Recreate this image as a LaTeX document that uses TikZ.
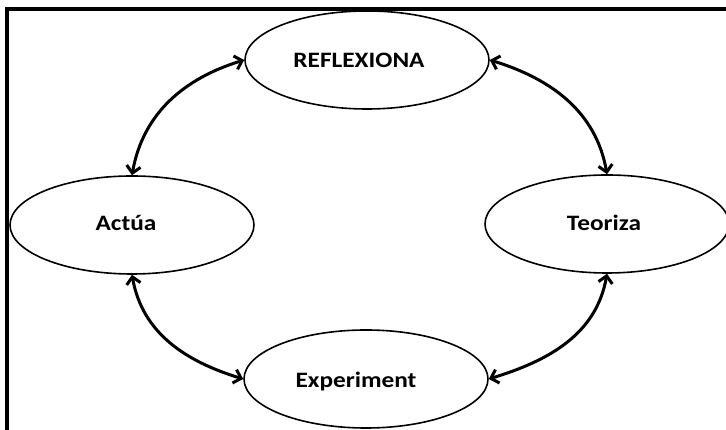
\documentclass[tikz,border=0pt]{standalone}
\usepackage{graphicx}
\usepackage{fontspec}
\setmainfont{Carlito}
\usetikzlibrary{shapes.geometric,arrows.meta}

% slightly widened bold labels
\newcommand{\stagetext}[1]{\scalebox{1.15}[1]{#1}}

\begin{document}
\begin{tikzpicture}[x=1pt,y=1pt,
  stage/.style={draw, ellipse, line width=1.6pt, minimum width=244pt,
                minimum height=98pt, inner sep=0pt},
  caption/.style={anchor=base, font=\fontsize{22}{26}\selectfont\bfseries},
  link/.style={line width=3pt,
               {Straight Barb[length=7pt,width=14pt]}-{Straight Barb[length=7pt,width=14pt]}},
  edge/.style={line width=3.5pt}]

  \useasboundingbox (0,0) rectangle (726,430);

  % open frame: left and top sides only
  \coordinate (frameBL) at (7,-2);
  \coordinate (frameTL) at (7,421);
  \coordinate (frameTR) at (728,421);
  \draw[edge] (frameBL) -- (frameTL) -- (frameTR);

  % the four stages of the cycle
  \node[stage] (refl) at (367,370) {};
  \node[stage] (act)  at (132,205) {};
  \node[stage] (teo)  at (607,206) {};
  \node[stage] (exper) at (366,51) {};

  \node[caption] (reflT)  at (359,362) {\stagetext{REFLEXIONA}};
  \node[caption] (actT)   at (126,199) {\stagetext{Actúa}};
  \node[caption] (teoT)   at (604,199) {\stagetext{Teoriza}};
  \node[caption] (experT) at (356,42)  {\stagetext{Experiment}};

  % two-way links between neighbouring stages
  \draw[link] (act.north)   to[out=80,in=197]   (refl.west);
  \draw[link] (refl.east)   to[out=-17,in=100]  (teo.north);
  \draw[link] (act.south)   to[out=-80,in=163]  (exper.west);
  \draw[link] (exper.east)  to[out=17,in=-100]  (teo.south);
\end{tikzpicture}
\end{document}
